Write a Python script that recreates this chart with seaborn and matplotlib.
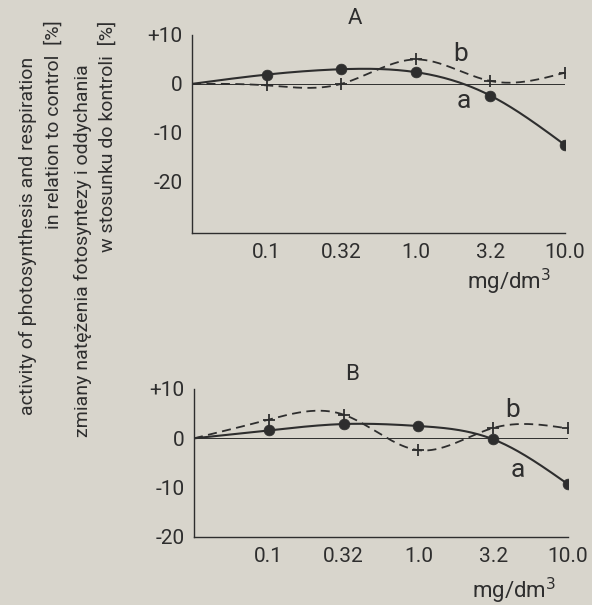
import numpy as np
import matplotlib
matplotlib.use("Agg")
import matplotlib.pyplot as plt
import seaborn as sns

# ---------------- data ----------------
concentrations = ["0.1", "0.32", "1.0", "3.2", "10.0"]
positions = [0, 1, 2, 3, 4, 5]          # 0 = origin (control)

A_a = [0, 1.9, 3.0, 2.4, -2.4, -12.5]   # photosynthesis, panel A
A_b = [0, -0.3, 0.0, 5.0, 0.6, 2.3]     # respiration, panel A
B_a = [0, 1.6, 2.9, 2.5, -0.2, -9.3]    # photosynthesis, panel B
B_b = [0, 3.8, 4.8, -2.4, 2.1, 2.0]     # respiration, panel B

ytick_A = [10, 0, -10, -20]
ytick_B = [10, 0, -10, -20]
ytick_labels = ["+10", "0", "-10", "-20"]

# ---------------- style ----------------
sns.set_theme(style="white")
FONT = ["Roboto", "DejaVu Sans"]
plt.rcParams["font.family"] = FONT
BG = "#d8d5cc"
INK = "#2e2e2e"


def natural_spline(x, y, n=300):
    x = np.asarray(x, float)
    y = np.asarray(y, float)
    k = len(x)
    h = np.diff(x)
    A = np.zeros((k, k))
    r = np.zeros(k)
    A[0, 0] = A[-1, -1] = 1
    for i in range(1, k - 1):
        A[i, i - 1] = h[i - 1]
        A[i, i] = 2 * (h[i - 1] + h[i])
        A[i, i + 1] = h[i]
        r[i] = 6 * ((y[i + 1] - y[i]) / h[i] - (y[i] - y[i - 1]) / h[i - 1])
    M = np.linalg.solve(A, r)
    xs = np.linspace(x[0], x[-1], n)
    idx = np.clip(np.searchsorted(x, xs) - 1, 0, k - 2)
    x0, x1 = x[idx], x[idx + 1]
    hh = x1 - x0
    t0, t1 = x1 - xs, xs - x0
    ys = (M[idx] * t0**3 + M[idx + 1] * t1**3) / (6 * hh) \
        + (y[idx] / hh - M[idx] * hh / 6) * t0 \
        + (y[idx + 1] / hh - M[idx + 1] * hh / 6) * t1
    return xs, ys


W, H = 592, 605
fig = plt.figure(figsize=(W / 100, H / 100), dpi=100, facecolor=BG)


def px_axes(left, right, top, bottom):
    return fig.add_axes([left / W, 1 - bottom / H, (right - left) / W, (bottom - top) / H])


def draw_panel(ax, ya, yb, ylim, yticks):
    ax.set_facecolor("none")
    xs, ys = natural_spline(positions, yb)
    sns.lineplot(x=xs, y=ys, ax=ax, color=INK, lw=1.3, linestyle=(0, (5, 3)), sort=False)
    xs, ys = natural_spline(positions, ya)
    sns.lineplot(x=xs, y=ys, ax=ax, color=INK, lw=1.5, sort=False)
    ax.axhline(0, xmin=0, xmax=1, color=INK, lw=0.7)
    sns.scatterplot(x=positions[1:], y=ya[1:], ax=ax, color=INK, s=60,
                    marker="o", edgecolor=INK, linewidth=0.5, zorder=5)
    sns.scatterplot(x=positions[1:], y=yb[1:], ax=ax, color=INK, s=75,
                    marker="+", linewidth=1.3, zorder=5)
    ax.set_xlim(0, 5)
    ax.set_ylim(*ylim)
    ax.set_xticks(positions)
    ax.set_xticklabels([""] + concentrations, fontsize=15, color=INK)
    ax.set_yticks(yticks)
    ax.set_yticklabels(ytick_labels, fontsize=15, color=INK)
    ax.tick_params(axis="x", direction="inout", length=7, width=0.9, color=INK, pad=4)
    ax.tick_params(axis="y", direction="out", length=5, width=0.9, color=INK, pad=2)
    for s in ["top", "right"]:
        ax.spines[s].set_visible(False)
    for s in ["left", "bottom"]:
        ax.spines[s].set_color(INK)
        ax.spines[s].set_linewidth(1.0)
    ax.spines["left"].set_bounds(ylim[0], yticks[0])
    ax.set_xlabel("")
    ax.set_ylabel("")
    ax.grid(False)


axA = px_axes(192, 565, 35, 233)
draw_panel(axA, A_a, A_b, (-30.5, 10), ytick_A)
axB = px_axes(194, 568, 389, 537)
draw_panel(axB, B_a, B_b, (-20, 10), ytick_B)

# panel titles & units
fig.text(355 / W, 1 - 18 / H, "A", ha="center", va="center", fontsize=16, color=INK)
fig.text(352 / W, 1 - 375 / H, "B", ha="center", va="center", fontsize=16, color=INK)
fig.text(509 / W, 1 - 282 / H, "mg/dm$^3$", ha="center", va="center", fontsize=16, color=INK)
fig.text(514 / W, 1 - 591 / H, "mg/dm$^3$", ha="center", va="center", fontsize=16, color=INK)

# curve labels
fig.text(461 / W, 1 - 54 / H, "b", ha="center", va="center", fontsize=19, color=INK)
fig.text(464 / W, 1 - 101 / H, "a", ha="center", va="center", fontsize=19, color=INK)
fig.text(513 / W, 1 - 410 / H, "b", ha="center", va="center", fontsize=19, color=INK)
fig.text(518 / W, 1 - 470 / H, "a", ha="center", va="center", fontsize=19, color=INK)

# rotated axis descriptions
fig.text(28 / W, 1 - 57 / H, "activity of photosynthesis and respiration",
         rotation=90, ha="center", va="top", fontsize=14, color=INK)
fig.text(54 / W, 1 - 20 / H, "in relation to control  [%]",
         rotation=90, ha="center", va="top", fontsize=14, color=INK)
fig.text(83 / W, 1 - 64 / H, "zmiany natężenia fotosyntezy i oddychania",
         rotation=90, ha="center", va="top", fontsize=14, color=INK)
fig.text(108 / W, 1 - 21 / H, "w stosunku do kontroli  [%]",
         rotation=90, ha="center", va="top", fontsize=14, color=INK)

fig.savefig("out.png", dpi=100, facecolor=BG)
